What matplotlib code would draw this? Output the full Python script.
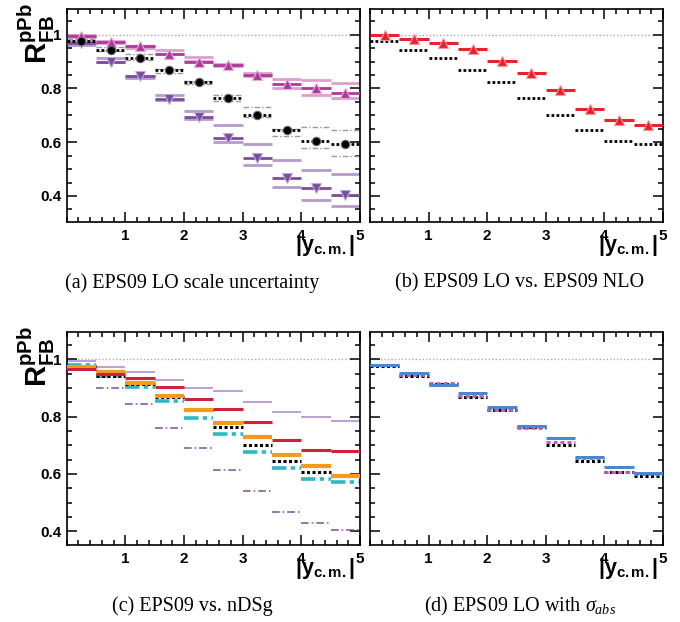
import numpy as np
import matplotlib
matplotlib.use("Agg")
import matplotlib.pyplot as plt
from matplotlib.ticker import MultipleLocator, FixedLocator, FixedFormatter

plt.rcParams['mathtext.fontset'] = 'custom'
plt.rcParams['mathtext.rm'] = 'Liberation Serif'
plt.rcParams['mathtext.it'] = 'Liberation Serif:italic'
plt.rcParams['mathtext.bf'] = 'Liberation Sans:bold'

# rapidity bins |y_cm|
edges = [0.0, 0.5, 1.0, 1.5, 2.0, 2.5, 3.0, 3.5, 4.0, 4.5, 5.0]

# EPS09 LO, central scale, with its band
lo_central    = [0.978, 0.943, 0.915, 0.868, 0.823, 0.763, 0.703, 0.645, 0.606, 0.593]
lo_central_hi = [0.984, 0.956, 0.927, 0.872, 0.829, 0.776, 0.730, 0.650, 0.656, 0.647]
lo_central_lo = [0.972, 0.938, 0.906, 0.859, 0.816, 0.752, 0.694, 0.622, 0.577, 0.548]

# EPS09 LO, scale variation (upper)
scale_up    = [0.995, 0.973, 0.957, 0.930, 0.900, 0.889, 0.852, 0.818, 0.800, 0.785]
scale_up_hi = [0.998, 0.975, 0.958, 0.943, 0.916, 0.893, 0.857, 0.836, 0.830, 0.819]
scale_up_lo = [0.990, 0.968, 0.951, 0.927, 0.902, 0.883, 0.845, 0.800, 0.774, 0.763]

# EPS09 LO, scale variation (lower)
scale_dn    = [0.970, 0.900, 0.845, 0.761, 0.692, 0.615, 0.541, 0.466, 0.428, 0.404]
scale_dn_hi = [0.978, 0.915, 0.848, 0.777, 0.715, 0.663, 0.593, 0.533, 0.496, 0.483]
scale_dn_lo = [0.962, 0.897, 0.840, 0.757, 0.688, 0.600, 0.514, 0.433, 0.385, 0.363]

# EPS09 NLO
eps09_nlo = [0.998, 0.984, 0.969, 0.947, 0.902, 0.859, 0.793, 0.725, 0.681, 0.665]

# nDSg sets
ndsg_set1 = [0.967, 0.951, 0.934, 0.903, 0.861, 0.827, 0.781, 0.717, 0.683, 0.679]
ndsg_set2 = [0.974, 0.955, 0.918, 0.871, 0.825, 0.779, 0.730, 0.667, 0.629, 0.593]
ndsg_set3 = [0.982, 0.943, 0.904, 0.855, 0.795, 0.740, 0.676, 0.622, 0.581, 0.573]

# EPS09 LO with nuclear absorption
abs_set1 = [0.982, 0.954, 0.911, 0.883, 0.833, 0.769, 0.727, 0.661, 0.626, 0.605]
abs_set2 = [0.979, 0.947, 0.917, 0.871, 0.822, 0.761, 0.711, 0.655, 0.608, 0.600]

y_ticks = [0.4, 0.6, 0.8, 1.0]
y_tick_labels = ["0.4", "0.6", "0.8", "1"]
x_ticks = [1, 2, 3, 4, 5]
x_tick_labels = ["1", "2", "3", "4", "5"]

captions = ["(a) EPS09 LO scale uncertainty",
            "(b) EPS09 LO vs. EPS09 NLO",
            "(c) EPS09 vs. nDSg",
            r"(d) EPS09 LO with $\sigma_{abs}$"]

W, H = 680, 622
fig = plt.figure(figsize=(W / 100, H / 100), dpi=100)

lo_edges = np.array(edges[:-1])
hi_edges = np.array(edges[1:])
centers = 0.5 * (lo_edges + hi_edges)

DOTS = (0, (1.0, 0.8))
GRAY_DASH = (0, (4, 1.5, 1, 1.5))


def add_panel(x0, x1, y0, y1):
    return fig.add_axes([x0 / W, 1 - y1 / H, (x1 - x0) / W, (y1 - y0) / H])


def steps(ax, vals, color, lw, ls='solid', z=2):
    ax.hlines(vals, lo_edges, hi_edges, colors=color, linewidths=lw,
              linestyles=ls, capstyle='butt', zorder=z)


def style(ax, ylim, ylabels):
    ax.set_xlim(0, 5)
    ax.set_ylim(*ylim)
    ax.xaxis.set_major_locator(FixedLocator(x_ticks))
    ax.xaxis.set_major_formatter(FixedFormatter(x_tick_labels))
    ax.xaxis.set_minor_locator(MultipleLocator(0.2))
    ax.yaxis.set_major_locator(FixedLocator(y_ticks))
    ax.yaxis.set_minor_locator(MultipleLocator(0.05))
    if ylabels:
        ax.yaxis.set_major_formatter(FixedFormatter(y_tick_labels))
    else:
        ax.yaxis.set_major_formatter(FixedFormatter([""] * len(y_ticks)))
    ax.tick_params(which='both', direction='in', top=True, right=True,
                   width=1.1, colors='black')
    ax.tick_params(which='major', length=7.5)
    ax.tick_params(which='minor', length=3.8)
    ax.tick_params(axis='x', which='major', pad=5)
    ax.tick_params(axis='y', which='major', pad=4)
    for lab in ax.get_xticklabels() + ax.get_yticklabels():
        lab.set_fontfamily('Liberation Sans')
        lab.set_fontweight('bold')
        lab.set_fontsize(11)
    for s in ax.spines.values():
        s.set_linewidth(1.2)
    ax.hlines(1.0, 0, 4.85, colors='#aaaaaa', linewidths=1.0,
              linestyles=(0, (1, 1.5)), zorder=1)
    ax.text(0.982, -0.05, r"$\mathbf{|y_{c.m.}|}$", transform=ax.transAxes,
            ha='right', va='top', fontsize=15.5)
    if ylabels:
        ax.text(-0.105, 0.885, r"$\mathbf{R^{pPb}_{FB}}$", transform=ax.transAxes,
                rotation=90, ha='center', va='center', fontsize=21)


TOP = (8.7, 222.0)
BOT = (331.7, 545.0)
LEFT = (66.7, 360.0)
RIGHT = (370.0, 663.0)

# (a) scale uncertainty
ax = add_panel(LEFT[0], LEFT[1], *TOP)
style(ax, (0.303, 1.097), True)
pink_l, pink_d = '#dc9fcc', '#b0399c'
purp_l, purp_d = '#b49bcc', '#7a4e9f'
for v in (scale_up_hi, scale_up_lo):
    steps(ax, v, pink_l, 2.0)
for v in (scale_dn_hi, scale_dn_lo):
    steps(ax, v, purp_l, 2.0)
for v in (lo_central_hi, lo_central_lo):
    steps(ax, v, '#9a9a9a', 1.0, GRAY_DASH)
steps(ax, scale_up, pink_d, 2.0, z=3)
steps(ax, scale_dn, purp_d, 2.0, z=3)
steps(ax, lo_central, 'black', 2.0, DOTS, z=3)
ax.plot(centers, scale_up, ls='none', marker='^', ms=6.5, color=pink_d,
        mec='#e7a9d8', mew=0.8, zorder=4)
ax.plot(centers, scale_dn, ls='none', marker='v', ms=6.5, color=purp_d,
        mec='#c0a8dc', mew=0.8, zorder=4)
ax.plot(centers, lo_central, ls='none', marker='o', ms=6, color='black',
        mec='#666666', mew=0.8, zorder=4)

# (b) LO vs NLO
ax = add_panel(RIGHT[0], RIGHT[1], *TOP)
style(ax, (0.303, 1.097), False)
steps(ax, lo_central, 'black', 2.0, DOTS)
steps(ax, eps09_nlo, '#e8222c', 2.2, z=3)
ax.plot(centers, eps09_nlo, ls='none', marker='^', ms=6.5, color='#e8222c',
        mec='#f29a9a', mew=0.8, zorder=4)

# (c) EPS09 vs nDSg
ax = add_panel(LEFT[0], LEFT[1], *BOT)
style(ax, (0.352, 1.097), True)
steps(ax, scale_up, '#b49bcc', 1.3)
steps(ax, scale_dn, '#7a4e9f', 1.1, (0, (5, 2, 1, 2)))
steps(ax, ndsg_set3, '#2fb9c2', 2.6, (0, (4, 1.2, 1.2, 1.2)), z=2)
steps(ax, lo_central, 'black', 2.2, DOTS, z=3)
steps(ax, ndsg_set2, '#f49a1c', 3.0, z=3)
steps(ax, ndsg_set1, '#d2203a', 2.2, z=3)

# (d) absorption
ax = add_panel(RIGHT[0], RIGHT[1], *BOT)
style(ax, (0.352, 1.097), False)
steps(ax, lo_central, 'black', 2.2, DOTS)
steps(ax, abs_set2, '#c35bb5', 2.0, (0, (1.5, 1)), z=3)
steps(ax, abs_set1, '#4a87d0', 2.2, z=3)

cap_pos = [(192, 283), (520, 283), (192, 606), (520, 606)]
for (cx, cy), txt in zip(cap_pos, captions):
    fig.text(cx / W, 1 - cy / H, txt, ha='center', va='center',
             family='Liberation Serif', fontsize=14.5)

fig.savefig("out.png", dpi=100)
